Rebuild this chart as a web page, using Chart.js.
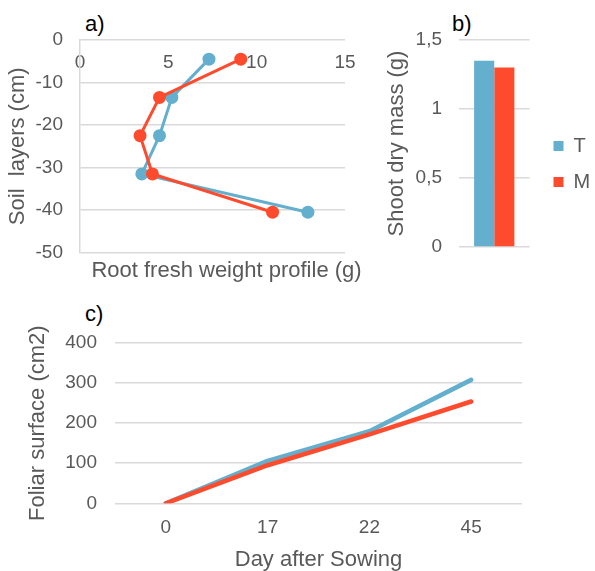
<!DOCTYPE html>
<html><head><meta charset="utf-8">
<script src="https://cdn.jsdelivr.net/npm/chart.js@4"></script>
<style>
html,body{margin:0;padding:0;background:#fff;}
body{width:595px;height:571px;position:relative;overflow:hidden;font-family:"Liberation Sans",Arial,sans-serif;}
canvas{position:absolute;}
.lbl{position:absolute;font-size:22px;color:#000;line-height:22px;white-space:nowrap;}
</style></head><body>
<div class="lbl" style="left:85px;top:13px">a)</div>
<div class="lbl" style="left:452px;top:13px">b)</div>
<div class="lbl" style="left:85px;top:303px">c)</div>
<canvas id="ca" width="453" height="290" style="left:0;top:0"></canvas>
<canvas id="cb" width="345" height="288" style="left:250px;top:0"></canvas>
<canvas id="cc" width="595" height="283" style="left:0;top:290px"></canvas>
<script>
// ---- data ----
const seriesNames = ['T', 'M'];
// a) root fresh weight profile
const soilLayers = [-4.5, -13.5, -22.5, -31.5, -40.5];
const rootT = [7.3, 5.2, 4.5, 3.5, 12.9];
const rootM = [9.1, 4.5, 3.4, 4.1, 10.9];
// b) shoot dry mass
const shootCategory = [''];
const shootT = [1.35];
const shootM = [1.30];
// c) foliar surface
const days = ['0', '17', '22', '45'];
const foliarT = [0, 106, 180, 308];
const foliarM = [0, 95, 172, 254];

const BLUE = '#64AFCD';
const RED = '#FF4B2D';
const GREY = '#595959';
const GRID = '#D9D9D9';
const FONT = '"Liberation Sans", Arial, sans-serif';
Chart.defaults.font.family = FONT;
Chart.defaults.color = GREY;

const tickFont = {size: 19, family: FONT};
const titleFont = {size: 22, family: FONT, weight: 'normal'};
const blankAxis = (w) => ({position: 'right', display: true, ticks: {display: false},
  grid: {display: false}, border: {display: false}, afterFit(s) { s.width = w; }});

// ---- chart a ----
new Chart(document.getElementById('ca'), {
  type: 'scatter',
  data: {
    datasets: [
      {label: seriesNames[0], data: soilLayers.map((y, i) => ({x: rootT[i], y})), showLine: true,
       borderColor: BLUE, backgroundColor: BLUE, borderWidth: 3, pointRadius: 6.5, pointHoverRadius: 6.5, pointBorderWidth: 0, order: 1},
      {label: seriesNames[1], data: soilLayers.map((y, i) => ({x: rootM[i], y})), showLine: true,
       borderColor: RED, backgroundColor: RED, borderWidth: 3, pointRadius: 6.5, pointHoverRadius: 6.5, pointBorderWidth: 0, order: 0}
    ]
  },
  options: {
    responsive: false, animation: false, devicePixelRatio: 1,
    layout: {padding: 0},
    plugins: {
      legend: {display: false}, tooltip: {enabled: false},
      title: {display: true, position: 'bottom', text: 'Root fresh weight profile (g)', color: GREY,
              font: titleFont, padding: {top: 5, bottom: 6}}
    },
    scales: {
      x: {type: 'linear', position: 'top', min: 0, max: 15,
          ticks: {stepSize: 5, color: GREY, font: tickFont, padding: 11, mirror: true, maxRotation: 0, autoSkip: false},
          grid: {display: false, drawTicks: false}, border: {display: false},
          afterFit(s) { s.height = 40; }},
      y: {type: 'linear', min: -50, max: 0,
          ticks: {stepSize: 10, color: GREY, font: tickFont, padding: 17},
          grid: {color: GRID, lineWidth: 1.5, drawTicks: false},
          border: {display: true, color: GRID, width: 1.5},
          title: {display: true, text: 'Soil  layers (cm)', color: GREY, font: titleFont, padding: {top: 5, bottom: 4}},
          afterFit(s) { s.width = 80; }},
      yPad: blankAxis(108)
    }
  }
});

// ---- chart b ----
new Chart(document.getElementById('cb'), {
  type: 'bar',
  data: {
    labels: shootCategory,
    datasets: [
      {label: seriesNames[0], data: shootT, backgroundColor: BLUE, borderWidth: 0},
      {label: seriesNames[1], data: shootM, backgroundColor: RED, borderWidth: 0}
    ]
  },
  options: {
    responsive: false, animation: false, devicePixelRatio: 1,
    layout: {padding: {top: 40, left: 0, right: 0, bottom: 0}},
    datasets: {bar: {categoryPercentage: 0.5714, barPercentage: 1.0}},
    plugins: {
      tooltip: {enabled: false},
      legend: {position: 'right', align: 'center',
               labels: {boxWidth: 10, boxHeight: 10, padding: 16, color: GREY, font: {size: 20, family: FONT}}}
    },
    scales: {
      x: {ticks: {display: false}, grid: {display: false}, border: {display: false},
          afterFit(s) { s.height = 41; }},
      y: {min: 0, max: 1.5,
          ticks: {stepSize: 0.5, color: GREY, font: tickFont, padding: 17,
                  callback: v => String(v).replace('.', ',')},
          grid: {color: GRID, lineWidth: 1.5, drawTicks: false},
          border: {display: false},
          title: {display: true, text: 'Shoot dry mass (g)', color: GREY, font: titleFont, padding: {top: 133.5, bottom: 4}},
          afterFit(s) { s.width = 209; }},
      yPad: blankAxis(8)
    }
  }
});

// ---- chart c ----
new Chart(document.getElementById('cc'), {
  type: 'line',
  data: {
    labels: days,
    datasets: [
      {label: seriesNames[0], data: foliarT, borderColor: BLUE, backgroundColor: BLUE, borderWidth: 4.5,
       pointRadius: 0, borderCapStyle: 'round', borderJoinStyle: 'round', order: 1},
      {label: seriesNames[1], data: foliarM, borderColor: RED, backgroundColor: RED, borderWidth: 4.5,
       pointRadius: 0, borderCapStyle: 'round', borderJoinStyle: 'round', order: 0}
    ]
  },
  options: {
    responsive: false, animation: false, devicePixelRatio: 1,
    layout: {padding: {top: 53, left: 0, right: 73, bottom: 0}},
    plugins: {legend: {display: false}, tooltip: {enabled: false}},
    scales: {
      x: {offset: true,
          ticks: {color: GREY, font: tickFont, padding: 13.3, maxRotation: 0},
          grid: {display: false, drawTicks: false}, border: {display: false},
          title: {display: true, text: 'Day after Sowing', color: GREY, font: titleFont, padding: {top: 4, bottom: 0}},
          afterFit(s) { s.height = 69.7; }},
      y: {min: 0, max: 400,
          ticks: {stepSize: 100, color: GREY, font: tickFont, padding: 18},
          grid: {color: GRID, lineWidth: 1.5, drawTicks: false},
          border: {display: false},
          title: {display: true, text: 'Foliar surface (cm2)', color: GREY, font: titleFont, padding: {top: 24.8, bottom: 4}},
          afterFit(s) { s.width = 115; }}
    }
  }
});
</script>
</body></html>
